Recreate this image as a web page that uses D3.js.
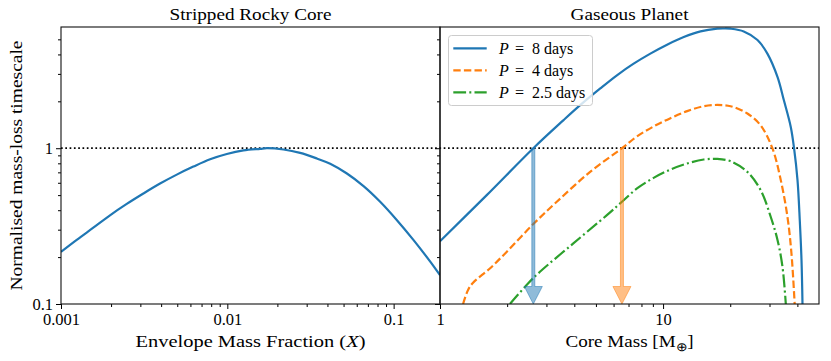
<!DOCTYPE html>
<html><head><meta charset="utf-8">
<script src="https://cdn.jsdelivr.net/npm/d3@7"></script>
<style>
html,body{margin:0;padding:0;background:#fff;}
svg{display:block;}
svg text{font-family:"Liberation Serif","Times New Roman","DejaVu Serif",serif;}
</style></head><body>
<svg id="chart" width="831" height="361"></svg>
<script>
// ---------- data ----------
const rockyX = [0.001, 0.001243, 0.001564, 0.00197, 0.002485, 0.003128, 0.00394, 0.004967, 0.006252, 0.00788, 0.00993, 0.0125, 0.01575, 0.0173, 0.02176, 0.0274, 0.03456, 0.04155, 0.05236, 0.06592, 0.0830, 0.1047, 0.1318, 0.166, 0.19];
const rockyY = [0.216, 0.258, 0.309, 0.371, 0.439, 0.512, 0.593, 0.677, 0.762, 0.849, 0.918, 0.968, 0.991, 1.0, 0.981, 0.933, 0.859, 0.795, 0.688, 0.571, 0.453, 0.345, 0.257, 0.187, 0.153];

const p8X = [1, 1.62, 2.62, 3.57, 4.25, 5.23, 6.21, 7.38, 8.77, 10.42, 12.38, 14.72, 17.49, 18.7, 20.07, 23.0, 26.5, 29.35, 32.6, 34.8, 37.36, 38.65, 40.05, 41.0, 41.74, 42.17];
const p8Y = [0.253, 0.50, 1.0, 1.51, 1.89, 2.42, 2.94, 3.49, 4.05, 4.62, 5.17, 5.62, 5.85, 5.87, 5.85, 5.62, 4.95, 4.05, 2.86, 2.03, 1.37, 1.0, 0.624, 0.345, 0.191, 0.1];

const p4X = [1.269, 1.336, 1.407, 1.673, 1.989, 2.62, 3.338, 4.71, 6.54, 7.64, 9.07, 10.79, 12.82, 15.22, 17.49, 20.07, 23.87, 27.39, 30.9, 33.7, 36.1, 37.63, 38.9];
const p4Y = [0.1, 0.123, 0.137, 0.169, 0.216, 0.326, 0.453, 0.705, 1.0, 1.19, 1.38, 1.56, 1.73, 1.86, 1.895, 1.86, 1.67, 1.40, 1.0, 0.624, 0.363, 0.211, 0.1];

const p25X = [2.058, 2.487, 2.806, 3.96, 5.6, 6.54, 7.64, 9.07, 10.79, 12.82, 15.22, 17.49, 20.07, 23.87, 27.39, 30.37, 32.6, 34.3, 35.5];
const p25Y = [0.1, 0.136, 0.161, 0.245, 0.372, 0.453, 0.552, 0.645, 0.730, 0.798, 0.846, 0.854, 0.825, 0.705, 0.538, 0.363, 0.257, 0.173, 0.1];

const periods = ["8", "4", "2.5"];
const arrowX = [2.62, 6.54];           // core masses where timescale = 1 (P = 8, P = 4)
const arrowTop = 1, arrowBottom = 0.1;

const leftXTicks = [0.001, 0.01, 0.1];
const leftXTickLabels = ["0.001", "0.01", "0.1"];
const rightXTicks = [1, 10];
const rightXTickLabels = ["1", "10"];
const yTicks = [0.1, 1];
const yTickLabels = ["0.1", "1"];
const refLevel = 1;

const titles = ["Stripped Rocky Core", "Gaseous Planet"];
const yLabel = "Normalised mass-loss timescale";

// ---------- layout ----------
const SERIF = "Liberation Serif, Times New Roman, DejaVu Serif, serif";
const svg = d3.select("#chart");
const yTop = 27, yBot = 304;
const L = {x0: 61, x1: 440}, R = {x0: 440, x1: 819};
const colors = ["#1f77b4", "#ff7f0e", "#2ca02c"];
const dashes = [null, "7.4,3.2", "12.8,3.2,2,3.2"];

const y = d3.scaleLog().domain([0.1, 6.0]).range([yBot, yTop]);
const xL = d3.scaleLog().domain([0.001, 0.19]).range([L.x0, L.x1]);
const xR = d3.scaleLog().domain([1, 50]).range([R.x0, R.x1]);

const defs = svg.append("defs");
defs.append("clipPath").attr("id", "clipL").append("rect")
  .attr("x", L.x0).attr("y", yTop).attr("width", L.x1 - L.x0).attr("height", yBot - yTop);
defs.append("clipPath").attr("id", "clipR").append("rect")
  .attr("x", R.x0).attr("y", yTop).attr("width", R.x1 - R.x0).attr("height", yBot - yTop);

const zip = (a, b) => a.map((v, i) => [v, b[i]]);
const lineGen = sx => d3.line().x(d => sx(d[0])).y(d => y(d[1])).curve(d3.curveCatmullRom.alpha(0.5));

// reference dotted line
svg.append("line")
  .attr("x1", L.x0).attr("x2", R.x1).attr("y1", y(refLevel)).attr("y2", y(refLevel))
  .attr("stroke", "#000").attr("stroke-width", 1.7).attr("stroke-dasharray", "1.7,2.6");

// left curve
svg.append("path").attr("clip-path", "url(#clipL)")
  .attr("d", lineGen(xL)(zip(rockyX, rockyY)))
  .attr("fill", "none").attr("stroke", colors[0]).attr("stroke-width", 2.2);

// right curves
const rightSeries = [zip(p8X, p8Y), zip(p4X, p4Y), zip(p25X, p25Y)];
rightSeries.forEach((s, i) => {
  svg.append("path").attr("clip-path", "url(#clipR)")
    .attr("d", lineGen(xR)(s))
    .attr("fill", "none").attr("stroke", colors[i]).attr("stroke-width", 2.2)
    .attr("stroke-dasharray", dashes[i]);
});

// arrows
arrowX.forEach((ax, i) => {
  const cx = xR(ax), y0 = y(arrowTop), y1 = y(arrowBottom);
  const hw = 1.5, headW = 9, headL = 17.5;
  const p = d3.path();
  p.moveTo(cx - hw, y0); p.lineTo(cx + hw, y0); p.lineTo(cx + hw, y1 - headL);
  p.lineTo(cx + headW, y1 - headL); p.lineTo(cx, y1); p.lineTo(cx - headW, y1 - headL);
  p.lineTo(cx - hw, y1 - headL); p.closePath();
  svg.append("path").attr("d", p.toString())
    .attr("fill", colors[i]).attr("fill-opacity", 0.5)
    .attr("stroke", colors[i]).attr("stroke-opacity", 0.5).attr("stroke-width", 1)
    .attr("stroke-linejoin", "miter");
});

// ---------- axes ----------
const tickFont = 16.5;
function styleAxis(g) {
  g.select(".domain").remove();
  g.selectAll(".tick line").attr("stroke", "#000").attr("stroke-width", 1);
  g.selectAll(".tick text").attr("font-size", tickFont).attr("font-family", SERIF).attr("fill", "#000");
}
function minorOf(scale, majors) {
  const [a, b] = scale.domain();
  return scale.ticks().filter(t => !majors.some(m => Math.abs(m - t) / m < 1e-9) && t >= a && t < b * 0.999);
}
// left x
svg.append("g").attr("transform", `translate(0,${yBot})`)
  .call(d3.axisBottom(xL).tickValues(leftXTicks).tickFormat((d, i) => leftXTickLabels[i]).tickSize(5).tickPadding(4.5))
  .call(styleAxis);
svg.append("g").attr("transform", `translate(0,${yBot})`)
  .call(d3.axisBottom(xL).tickValues(minorOf(xL, leftXTicks)).tickFormat("").tickSize(3))
  .call(styleAxis);
// right x
svg.append("g").attr("transform", `translate(0,${yBot})`)
  .call(d3.axisBottom(xR).tickValues(rightXTicks).tickFormat((d, i) => rightXTickLabels[i]).tickSize(5).tickPadding(4.5))
  .call(styleAxis);
svg.append("g").attr("transform", `translate(0,${yBot})`)
  .call(d3.axisBottom(xR).tickValues(minorOf(xR, rightXTicks)).tickFormat("").tickSize(3))
  .call(styleAxis);
// left y
svg.append("g").attr("transform", `translate(${L.x0},0)`)
  .call(d3.axisLeft(y).tickValues(yTicks).tickFormat((d, i) => yTickLabels[i]).tickSize(5).tickPadding(3))
  .call(styleAxis);
svg.append("g").attr("transform", `translate(${L.x0},0)`)
  .call(d3.axisLeft(y).tickValues(minorOf(y, yTicks)).tickFormat("").tickSize(3))
  .call(styleAxis);
// right panel y (no labels)
svg.append("g").attr("transform", `translate(${R.x0},0)`)
  .call(d3.axisLeft(y).tickValues(yTicks).tickFormat("").tickSize(5))
  .call(styleAxis);
svg.append("g").attr("transform", `translate(${R.x0},0)`)
  .call(d3.axisLeft(y).tickValues(minorOf(y, yTicks)).tickFormat("").tickSize(3))
  .call(styleAxis);

// spines
[L, R].forEach(p => {
  svg.append("rect").attr("x", p.x0).attr("y", yTop).attr("width", p.x1 - p.x0).attr("height", yBot - yTop)
    .attr("fill", "none").attr("stroke", "#111").attr("stroke-width", 1.1);
});

// ---------- text ----------
const labelFont = 16.5;
svg.append("text").attr("x", (L.x0 + L.x1) / 2).attr("y", 20).attr("text-anchor", "middle")
  .attr("font-family", SERIF).attr("font-size", labelFont)
  .attr("textLength", 162).attr("lengthAdjust", "spacingAndGlyphs")
  .text(titles[0]);
svg.append("text").attr("x", (R.x0 + R.x1) / 2).attr("y", 20).attr("text-anchor", "middle")
  .attr("font-family", SERIF).attr("font-size", labelFont)
  .attr("textLength", 118).attr("lengthAdjust", "spacingAndGlyphs")
  .text(titles[1]);

const xl = svg.append("text").attr("x", (L.x0 + L.x1) / 2).attr("y", 347).attr("text-anchor", "middle")
  .attr("font-family", SERIF).attr("font-size", labelFont)
  .attr("textLength", 230).attr("lengthAdjust", "spacingAndGlyphs");
xl.append("tspan").text("Envelope Mass Fraction (");
xl.append("tspan").attr("font-style", "italic").text("X");
xl.append("tspan").text(")");

const xr = svg.append("text").attr("x", (R.x0 + R.x1) / 2).attr("y", 347).attr("text-anchor", "middle")
  .attr("font-family", SERIF).attr("font-size", labelFont)
  .attr("textLength", 128).attr("lengthAdjust", "spacingAndGlyphs");
xr.append("tspan").text("Core Mass [M");
xr.append("tspan").attr("font-size", 11.5).attr("dy", 4).attr("font-family", "DejaVu Sans, sans-serif").attr("font-weight", 300).text("\u2295");
xr.append("tspan").attr("dy", -4).text("]");

svg.append("text").attr("transform", `translate(22,${(yTop + yBot) / 2}) rotate(-90)`)
  .attr("text-anchor", "middle").attr("font-family", SERIF).attr("font-size", labelFont)
  .attr("textLength", 250).attr("lengthAdjust", "spacingAndGlyphs")
  .text(yLabel);

// ---------- legend ----------
const lg = svg.append("g");
lg.append("rect").attr("x", 448.5).attr("y", 35.5).attr("width", 144).attr("height", 70).attr("rx", 3)
  .attr("fill", "#fff").attr("fill-opacity", 0.8).attr("stroke", "#cccccc").attr("stroke-width", 1);
periods.forEach((p, i) => {
  const cy = 48.3 + i * 22;
  lg.append("line").attr("x1", 453.3).attr("x2", 486.7).attr("y1", cy).attr("y2", cy)
    .attr("stroke", colors[i]).attr("stroke-width", 2.2).attr("stroke-dasharray", dashes[i]);
  const t = lg.append("text").attr("y", cy + 5.5).attr("font-family", SERIF).attr("font-size", 16);
  t.append("tspan").attr("x", 499).attr("font-style", "italic").text("P");
  t.append("tspan").attr("x", 515).text("=");
  t.append("tspan").attr("x", 532).text(p + " days");
});
</script>
</body></html>
